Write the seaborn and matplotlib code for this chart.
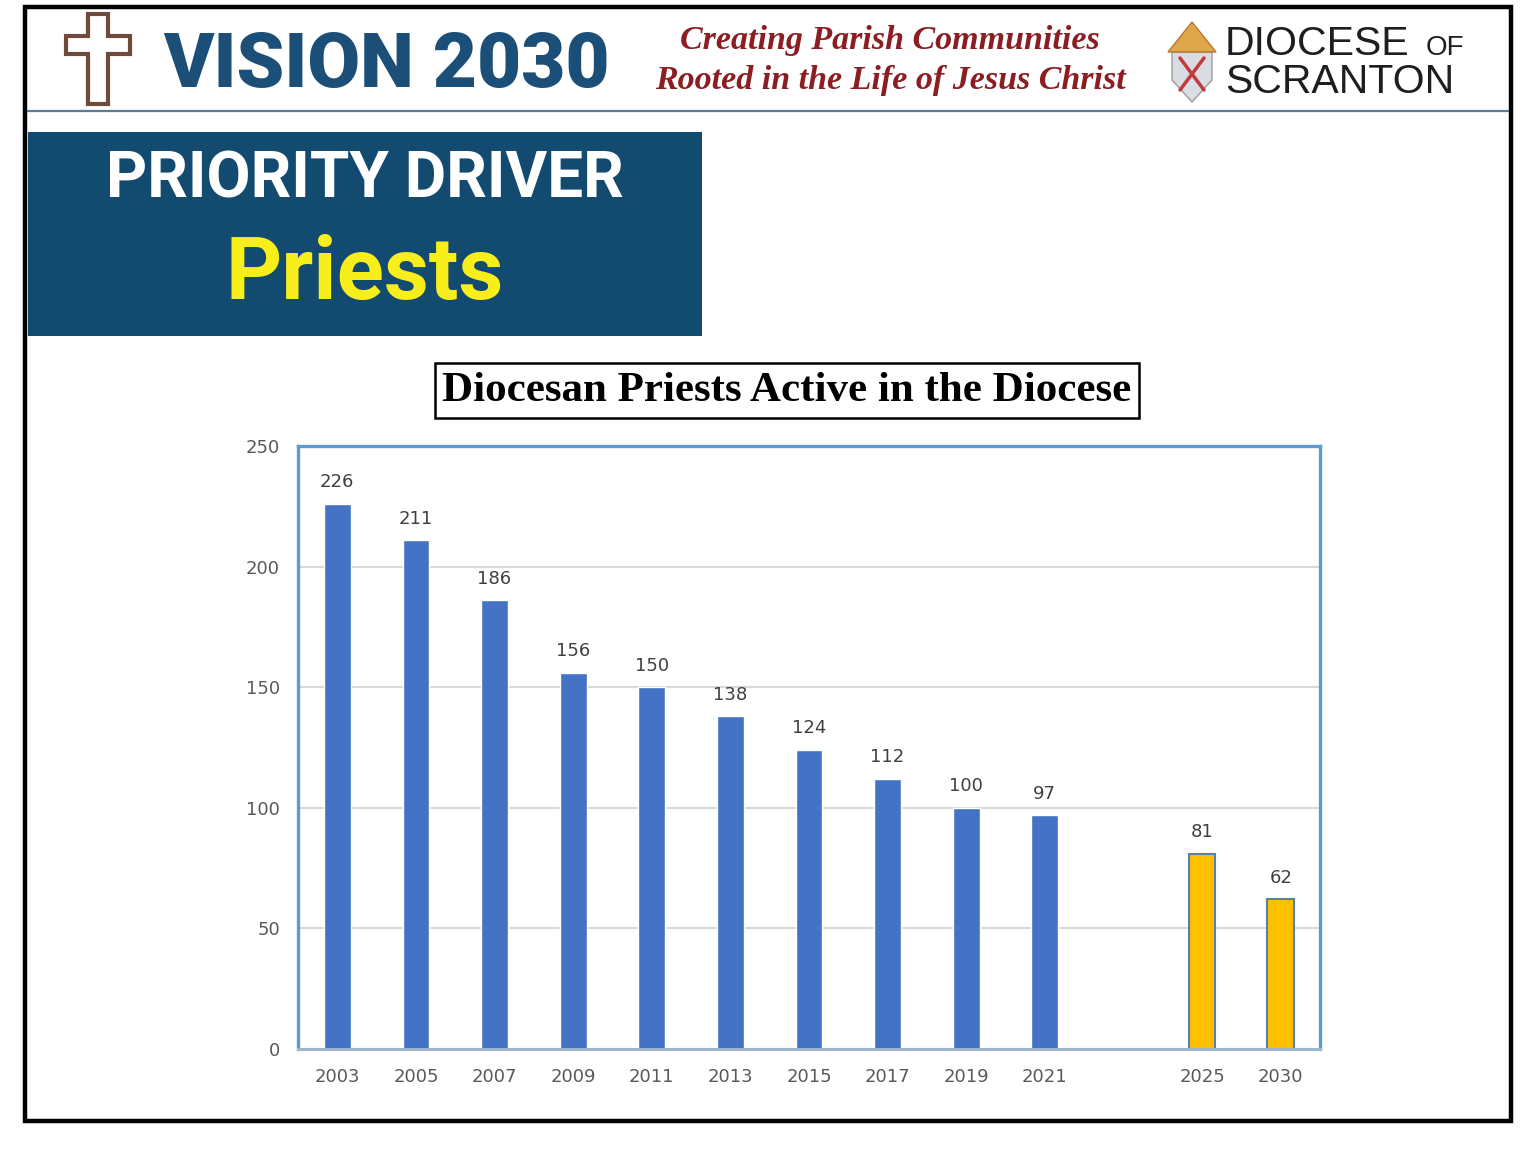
import numpy as np
import pandas as pd
import seaborn as sns
import matplotlib.pyplot as plt
from matplotlib.patches import Rectangle, Polygon


years = ['2003', '2005', '2007', '2009', '2011', '2013', '2015', '2017',
         '2019', '2021', '2025', '2030']
priests = [226, 211, 186, 156, 150, 138, 124, 112, 100, 97, 81, 62]
status = ['Actual'] * 10 + ['Projected'] * 2
y_ticks = [0, 50, 100, 150, 200, 250]

# one empty slot between 2021 and 2025
order = years[:10] + [' '] + years[10:]

df = pd.DataFrame({'year': years, 'priests': priests, 'status': status})

sns.set_theme(style='white')
plt.rcParams['font.family'] = ['DejaVu Sans']

W, H = 1536, 1149
fig = plt.figure(figsize=(W / 100, H / 100), dpi=100)


def fx(px):
    return px / W


def fy(py):
    return 1 - py / H


##############
# header / frame decoration
##############

# outer black border
fig.patches.append(Rectangle((fx(25), fy(1121)), fx(1511) - fx(25), fy(7) - fy(1121),
                             transform=fig.transFigure, fill=False,
                             edgecolor='black', linewidth=3.2, zorder=5))
# header rule
fig.add_artist(plt.Line2D([fx(28), fx(1508)], [fy(111), fy(111)],
                          transform=fig.transFigure, color='#5f7d92', linewidth=1.6))

# cross logo
cross = [(88, 14), (108, 14), (108, 36), (130, 36), (130, 54), (108, 54),
         (108, 104), (88, 104), (88, 54), (66, 54), (66, 36), (88, 36)]
fig.patches.append(Polygon([(fx(x), fy(y)) for x, y in cross], closed=True,
                           transform=fig.transFigure, facecolor='white',
                           edgecolor='#6e4b3b', linewidth=3))

fig.text(fx(163), fy(66), 'VISION 2030', ha='left', va='center',
         fontsize=55, fontweight='heavy', color='#1c4f78', family='Roboto')

fig.text(fx(890), fy(40), 'Creating Parish Communities', ha='center', va='center',
         fontsize=24.5, fontweight='bold', fontstyle='italic', color='#8c1d22',
         family='Liberation Serif')
fig.text(fx(890), fy(80), 'Rooted in the Life of Jesus Christ', ha='center', va='center',
         fontsize=24.5, fontweight='bold', fontstyle='italic', color='#8c1d22',
         family='Liberation Serif')

# coat of arms (simplified)
shield = [(1172, 52), (1212, 52), (1212, 80), (1192, 102), (1172, 80)]
fig.patches.append(Polygon([(fx(x), fy(y)) for x, y in shield], closed=True,
                           transform=fig.transFigure, facecolor='#d9dde3',
                           edgecolor='#9a9a9a', linewidth=1))
mitre = [(1168, 52), (1216, 52), (1192, 22)]
fig.patches.append(Polygon([(fx(x), fy(y)) for x, y in mitre], closed=True,
                           transform=fig.transFigure, facecolor='#e0a64a',
                           edgecolor='#b9782b', linewidth=1))
fig.add_artist(plt.Line2D([fx(1180), fx(1204)], [fy(58), fy(90)],
                          transform=fig.transFigure, color='#c23a3a', linewidth=2.5))
fig.add_artist(plt.Line2D([fx(1204), fx(1180)], [fy(58), fy(90)],
                          transform=fig.transFigure, color='#c23a3a', linewidth=2.5))

fig.text(fx(1225), fy(44), 'DIOCESE', ha='left', va='center', fontsize=29.5,
         color='#1e1e1e', family='Liberation Sans')
fig.text(fx(1426), fy(48), 'OF', ha='left', va='center', fontsize=20,
         color='#1e1e1e', family='Liberation Sans')
fig.text(fx(1225), fy(82), 'SCRANTON', ha='left', va='center', fontsize=29.5,
         color='#1e1e1e', family='Liberation Sans')

# priority driver box
fig.patches.append(Rectangle((fx(28), fy(336)), fx(702) - fx(28), fy(132) - fy(336),
                             transform=fig.transFigure, facecolor='#134a6f',
                             edgecolor='none'))
fig.text(fx(365), fy(180), 'PRIORITY DRIVER', ha='center', va='center',
         fontsize=46, fontweight='bold', color='white', family='Roboto')
fig.text(fx(365), fy(275), 'Priests', ha='center', va='center',
         fontsize=63, fontweight='bold', color='#f7ee1c', family='Roboto')

# chart title in a box
fig.text(fx(787), fy(391), 'Diocesan Priests Active in the Diocese', ha='center',
         va='center', fontsize=31, fontweight='bold', color='black',
         family='Liberation Serif')
fig.patches.append(Rectangle((fx(435), fy(418)), fx(1139) - fx(435), fy(363) - fy(418),
                             transform=fig.transFigure, fill=False,
                             edgecolor='black', linewidth=1.8))

##############
# bar chart
##############

ax = fig.add_axes([fx(298), fy(1049), fx(1320) - fx(298), fy(446) - fy(1049)])

sns.barplot(data=df, x='year', y='priests', hue='status', order=order,
            hue_order=['Actual', 'Projected'],
            palette={'Actual': '#4472c4', 'Projected': '#ffc000'},
            dodge=False, width=0.34, saturation=1, legend=False, ax=ax)

for bar in ax.containers[1]:
    bar.set_edgecolor('#5b7db0')
    bar.set_linewidth(1.5)
for cont in ax.containers:
    ax.bar_label(cont, padding=9, fontsize=13, color='#404040')

ax.set_ylim(0, 250)
ax.set_xlim(-0.5, len(order) - 0.5)
ax.set_yticks(y_ticks)
ax.yaxis.grid(True, color='#d9d9d9', linewidth=1.5)
ax.set_axisbelow(True)
ax.set_xlabel('')
ax.set_ylabel('')
ax.tick_params(axis='x', length=0, pad=14, labelsize=13, labelcolor='#595959')
ax.tick_params(axis='y', length=0, pad=13, labelsize=13, labelcolor='#595959')

for side in ['left', 'top', 'right']:
    ax.spines[side].set_color('#5b9bd5')
    ax.spines[side].set_linewidth(2.4)
ax.spines['bottom'].set_color('#9fb4cf')
ax.spines['bottom'].set_linewidth(2.2)

fig.savefig('out.png', dpi=100)
